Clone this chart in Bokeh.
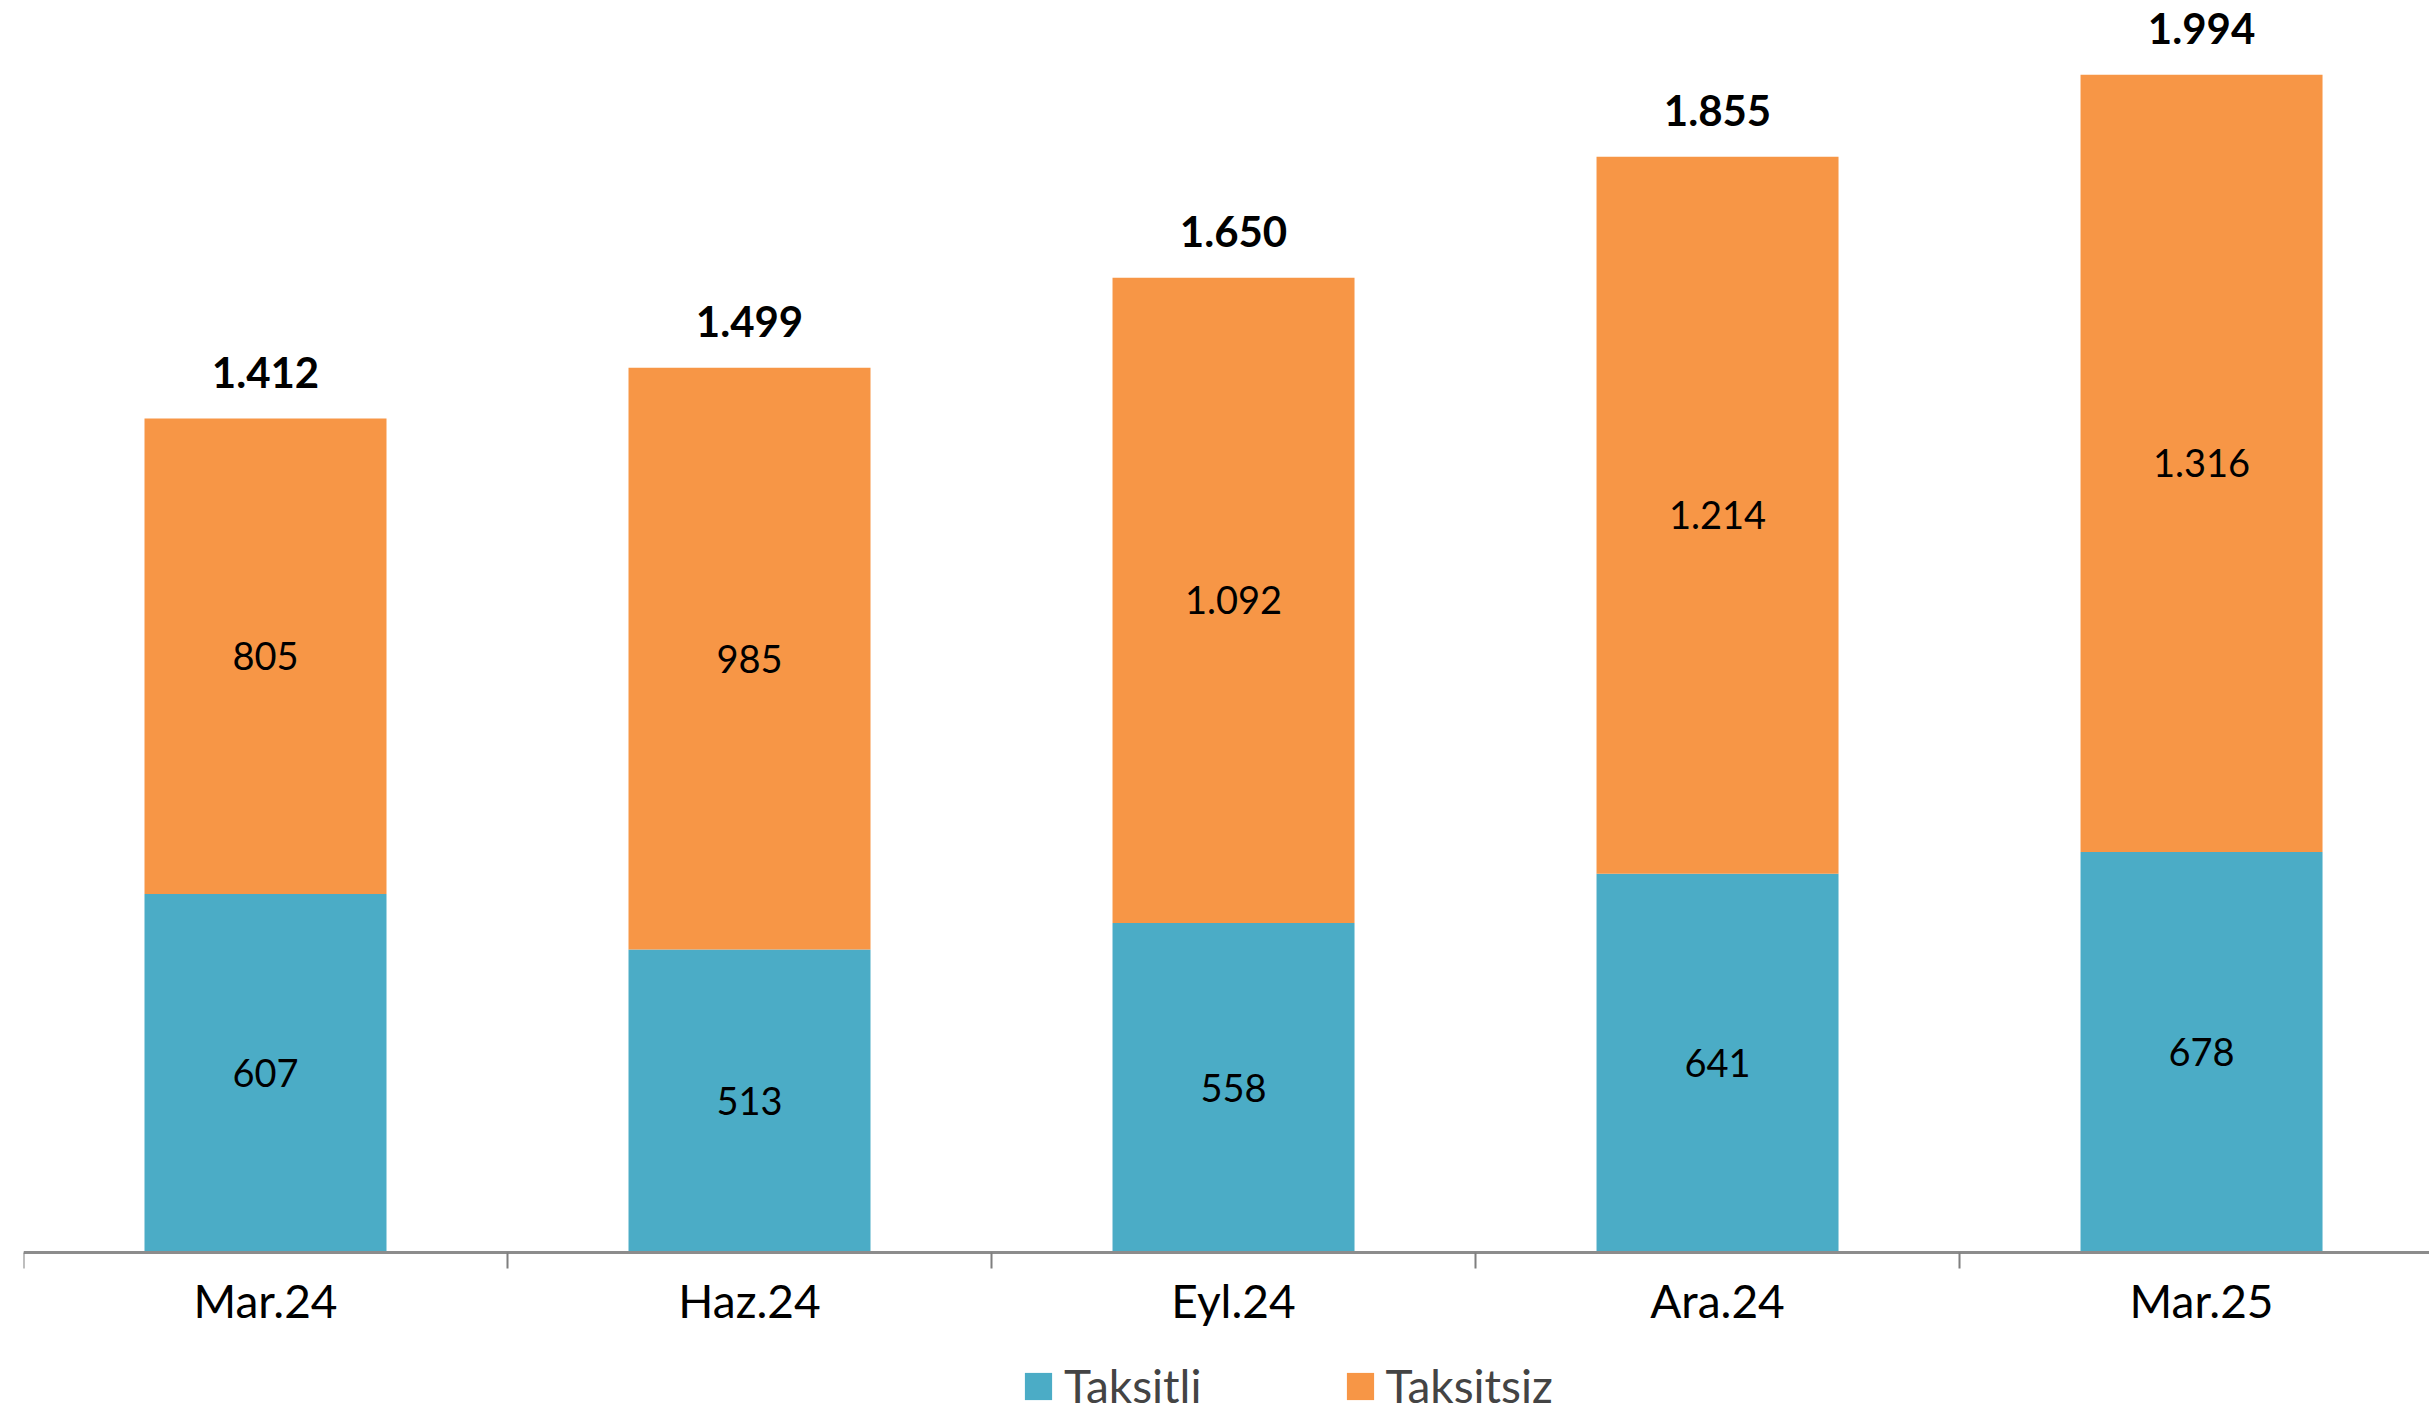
from bokeh.plotting import figure
from bokeh.models import ColumnDataSource, Range1d, FixedTicker, Legend, LegendItem
from bokeh.embed import file_html
from bokeh.resources import INLINE
from bokeh.core.properties import value

categories = ["Mar.24", "Haz.24", "Eyl.24", "Ara.24", "Mar.25"]
taksitli = [607, 513, 558, 641, 678]
taksitsiz = [805, 985, 1092, 1214, 1316]
totals = [1412, 1499, 1650, 1855, 1994]

TEAL = "#4BACC6"
ORANGE = "#F79646"
FONT = "Lato"


def fmt(v):
    return f"{v:,}".replace(",", ".")


x = list(range(len(categories)))
src = ColumnDataSource(dict(
    x=x,
    taksitli=taksitli,
    taksitsiz=taksitsiz,
    top=[a + b for a, b in zip(taksitli, taksitsiz)],
    mid1=[a / 2 for a in taksitli],
    mid2=[a + b / 2 for a, b in zip(taksitli, taksitsiz)],
    lbl1=[fmt(v) for v in taksitli],
    lbl2=[fmt(v) for v in taksitsiz],
    tot=[fmt(v) for v in totals],
))

p = figure(frame_width=2406, frame_height=1417, output_backend="svg",
           toolbar_location=None, x_range=Range1d(-0.5, 4.471),
           y_range=Range1d(-279.3, 2119.5), min_border_left=23, min_border_right=0,
           min_border_top=0, min_border_bottom=0)
p.outline_line_color = None
p.xgrid.visible = False
p.ygrid.visible = False
p.yaxis.visible = False

r1 = p.vbar(x="x", width=0.5, bottom=0, top="taksitli", source=src,
            fill_color=TEAL, line_color=None)
r2 = p.vbar(x="x", width=0.5, bottom="taksitli", top="top", source=src,
            fill_color=ORANGE, line_color=None)

p.text(x="x", y="mid1", text="lbl1", source=src, text_align="center",
       text_baseline="middle", text_font=value(FONT), text_font_size="38px",
       text_color="black")
p.text(x="x", y="mid2", text="lbl2", source=src, text_align="center",
       text_baseline="middle", text_font=value(FONT), text_font_size="38px",
       text_color="black")
p.text(x="x", y="top", text="tot", source=src, text_align="center",
       text_baseline="middle", y_offset=-46, text_font=value(FONT),
       text_font_size="42px", text_font_style="bold", text_color="black")

ax = p.xaxis[0]
ax.fixed_location = 0
ax.ticker = FixedTicker(ticks=x, minor_ticks=[i - 0.5 for i in range(len(categories) + 1)])
ax.major_label_overrides = {i: c for i, c in zip(x, categories)}
ax.major_tick_out = 0
ax.major_tick_in = 0
ax.minor_tick_out = 16
ax.minor_tick_in = 0
ax.minor_tick_line_color = "#7f7f7f"
ax.minor_tick_line_width = 2
ax.axis_line_color = "#8c8c8c"
ax.axis_line_width = 3
ax.major_label_text_font = FONT
ax.major_label_text_font_size = "46px"
ax.major_label_text_color = "black"
ax.major_label_standoff = 4

legend = Legend(items=[LegendItem(label="Taksitli", renderers=[r1]),
                       LegendItem(label="Taksitsiz", renderers=[r2])],
                orientation="horizontal", location=(998, 4),
                label_text_font=FONT, label_text_font_size="46px",
                glyph_width=34, glyph_height=34, label_standoff=9,
                spacing=141, padding=0, margin=0,
                border_line_color=None, background_fill_alpha=0)
p.add_layout(legend)

open("out.html", "w").write(file_html(p, INLINE))
